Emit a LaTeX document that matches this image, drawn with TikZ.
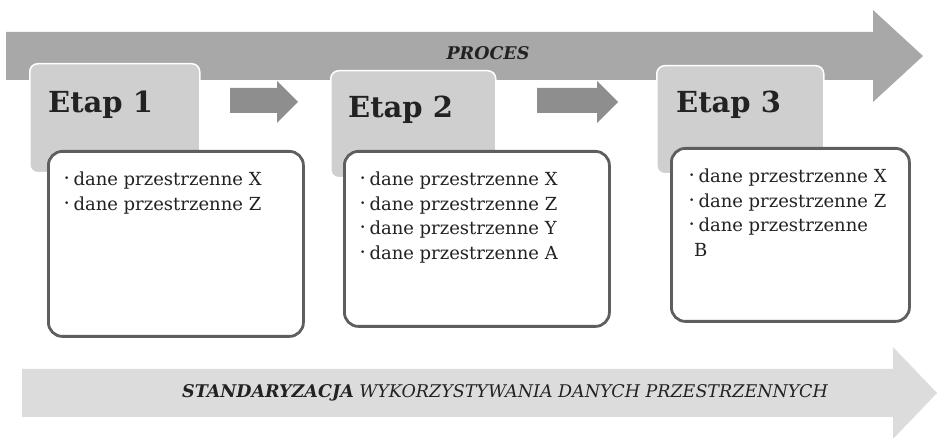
\documentclass[tikz,border=0pt]{standalone}
\usepackage{fontspec}
\setmainfont{DejaVu Serif}
\usepackage{tikz}
\usetikzlibrary{positioning}

\definecolor{procgray}{HTML}{A8A8A8}
\definecolor{etapgray}{HTML}{CFCFCF}
\definecolor{stepgray}{HTML}{8E8E8E}
\definecolor{framegray}{HTML}{5E5E5E}
\definecolor{stdgray}{HTML}{DCDCDC}
\definecolor{inkgray}{HTML}{222222}

\newcommand{\bul}{\raisebox{0.45ex}{\fontsize{9}{9}\selectfont •}\hspace{4pt}}

\tikzset{
  etapbox/.style={draw=white, line width=1.5pt, fill=etapgray, rounded corners=8pt,
    anchor=north west, inner sep=0pt},
  etaplabel/.style={anchor=base west, inner sep=0pt, text=inkgray,
    font=\fontsize{29}{34}\selectfont\bfseries},
  listbox/.style={draw=framegray, line width=2.8pt, fill=white, rounded corners=14pt,
    anchor=north west, inner sep=0pt},
  listtext/.style={anchor=north west, inner sep=0pt, align=left, text=inkgray,
    font=\fontsize{18}{24.5}\selectfont}
}

\begin{document}
\begin{tikzpicture}[x=1pt,y=-1pt]
  \useasboundingbox (0,0) rectangle (938,438);

  % proces arrow
  \fill[procgray] (6,32) -- (873,32) -- (873,10) -- (923,56) -- (873,102)
    -- (873,80) -- (6,80) -- cycle;
  \node[font=\fontsize{17.5}{19}\selectfont\bfseries\itshape, text=inkgray] (proces) at (488,53) {PROCES};

  % etapy
  \node[etapbox, minimum width=170, minimum height=109] (etap1) at (29,63) {};
  \node[etapbox, minimum width=165, minimum height=107] (etap2) at (330,70) {};
  \node[etapbox, minimum width=167, minimum height=108] (etap3) at (656,65) {};

  \node[etaplabel] (lab1) at (48,113) {Etap 1};
  \node[etaplabel] (lab2) at (348,118) {Etap 2};
  \node[etaplabel] (lab3) at (676,113) {Etap 3};

  \foreach \xa/\xb in {230/298,537/618}{
    \fill[stepgray] (\xa,88) -- (\xb-21,88) -- (\xb-21,81) -- (\xb,102)
      -- (\xb-21,123) -- (\xb-21,113) -- (\xa,113) -- cycle;
  }

  % listy danych
  \node[listbox, minimum width=255, minimum height=185] (list1) at (47,150) {};
  \node[listbox, minimum width=265, minimum height=175] (list2) at (343,150) {};
  \node[listbox, minimum width=238, minimum height=173] (list3) at (670,147) {};

  \node[listtext] (dane1) at (64,172) {\bul dane przestrzenne X\\ \bul dane przestrzenne Z};
  \node[listtext] (dane2) at (360,172) {\bul dane przestrzenne X\\ \bul dane przestrzenne Z\\
    \bul dane przestrzenne Y\\ \bul dane przestrzenne A};
  \node[listtext] (dane3) at (689,169) {\bul dane przestrzenne X\\ \bul dane przestrzenne Z\\
    \bul dane przestrzenne\\ \hspace{5pt}B};

  % standaryzacja arrow
  \fill[stdgray] (22,369) -- (893,369) -- (893,347) -- (937,393) -- (893,439)
    -- (893,417) -- (22,417) -- cycle;
  \node[font=\fontsize{17.5}{19}\selectfont\itshape, text=inkgray] (std) at (505,393)
    {\textbf{STANDARYZACJA} WYKORZYSTYWANIA DANYCH PRZESTRZENNYCH};
\end{tikzpicture}
\end{document}
